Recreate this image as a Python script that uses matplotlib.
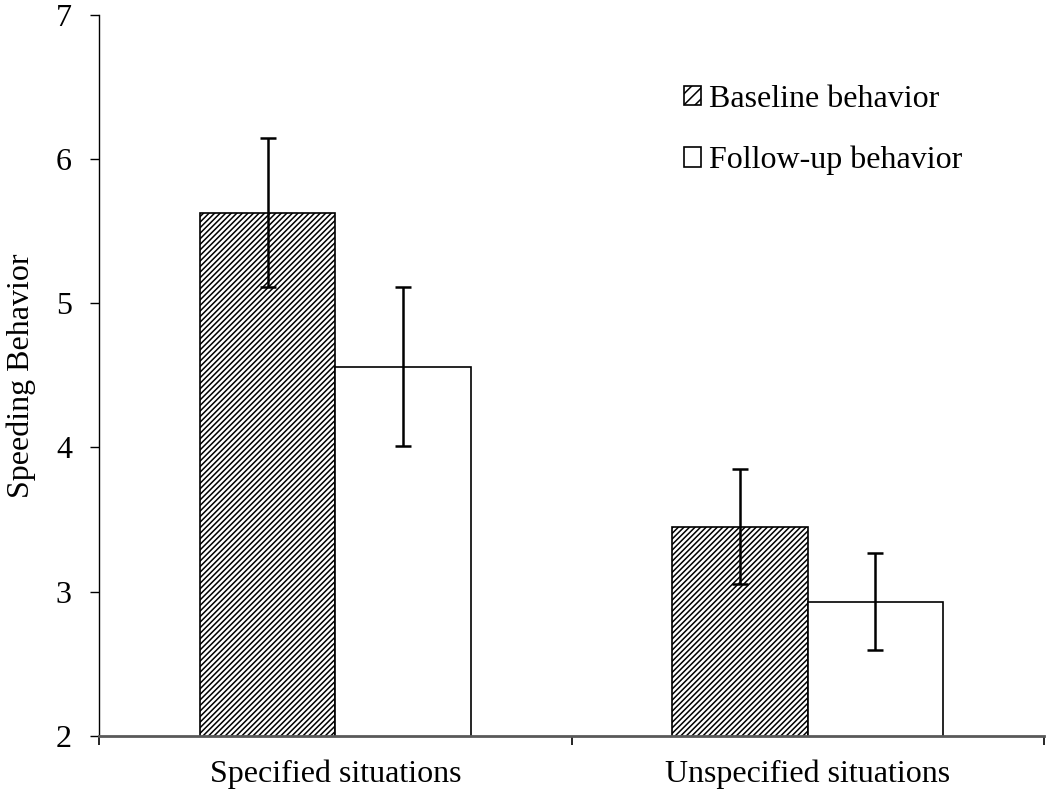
import matplotlib
matplotlib.use("Agg")
import matplotlib.pyplot as plt
import numpy as np
from matplotlib.patches import Patch

# data
categories = ["Specified situations", "Unspecified situations"]
series = ["Baseline behavior", "Follow-up behavior"]
baseline = [5.63, 3.45]
baseline_err = [0.52, 0.40]
followup = [4.56, 2.93]
followup_err = [0.55, 0.335]
y_ticks = [2, 3, 4, 5, 6, 7]

plt.rcParams["font.family"] = ["Liberation Serif", "DejaVu Serif"]
plt.rcParams["hatch.linewidth"] = 1.1
plt.rcParams["hatch.color"] = "#333333"

fig = plt.figure(figsize=(10.5, 7.92), dpi=100)
ax = fig.add_axes([0.0943, 0.0711, 0.9, 0.9099])

x = np.arange(len(categories))
w = 0.2865
hatch = "//////"

ax.bar(x - w / 2, baseline, w, color="white", edgecolor="black",
       linewidth=1.2, hatch=hatch, zorder=2)
ax.bar(x + w / 2, followup, w, color="white", edgecolor="black",
       linewidth=1.2, zorder=2)
ax.errorbar(x - w / 2, baseline, yerr=baseline_err, fmt="none", ecolor="black",
            elinewidth=1.8, capsize=6, capthick=1.8, zorder=3)
ax.errorbar(x + w / 2, followup, yerr=followup_err, fmt="none", ecolor="black",
            elinewidth=1.8, capsize=6, capthick=1.8, zorder=3)

ax.set_ylim(2, 7)
ax.set_xlim(-0.5, 1.5)
ax.set_yticks(y_ticks)
ax.set_xticks(x)
ax.set_xticklabels(categories)
ax.set_xticks([-0.5, 0.5, 1.5], minor=True)

ax.tick_params(axis="y", direction="out", length=6.5, width=1, pad=13,
               labelsize=23, colors="black")
ax.tick_params(axis="x", which="major", length=0, pad=17, labelsize=23)
ax.tick_params(axis="x", which="minor", direction="out", length=6.5, width=1.2,
               color="black")

for s in ["top", "right"]:
    ax.spines[s].set_visible(False)
ax.spines["left"].set_color("black")
ax.spines["left"].set_linewidth(1.0)
ax.spines["bottom"].set_color("#595959")
ax.spines["bottom"].set_linewidth(2.0)
ax.spines["bottom"].set_zorder(4)

ax.set_ylabel("Speeding Behavior", fontsize=23, labelpad=14)

handles = [Patch(facecolor="white", edgecolor="black", hatch="///", linewidth=1.2),
           Patch(facecolor="white", edgecolor="black", linewidth=1.2)]
ax.legend(handles, series, loc="upper left", bbox_to_anchor=(0.605, 0.921),
          frameon=False, fontsize=23, handlelength=0.55, handleheight=0.55,
          handletextpad=0.25, labelspacing=1.0, borderaxespad=0)

fig.savefig("out.png", dpi=100)
